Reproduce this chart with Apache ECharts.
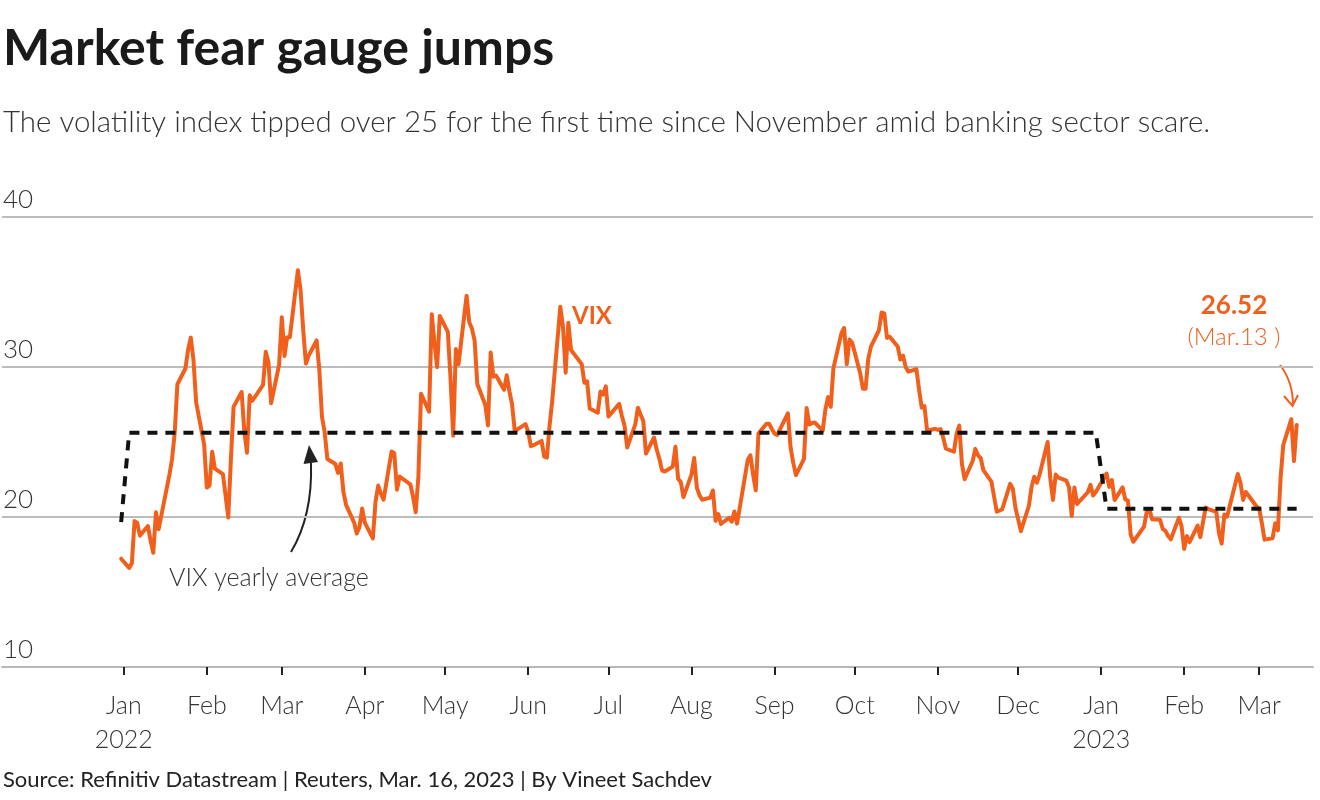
<!DOCTYPE html>
<html>
<head>
<meta charset="utf-8">
<script src="https://cdn.jsdelivr.net/npm/echarts@6.0.0/dist/echarts.min.js"></script>
<style>
html,body{margin:0;padding:0;background:#ffffff;}
#chart{width:1320px;height:800px;}
</style>
</head>
<body>
<div id="chart"></div>
<script>
// ---------------- DATA ----------------
const dates = [
'2021-12-31',
'2022-01-03','2022-01-04','2022-01-05','2022-01-06','2022-01-07','2022-01-10','2022-01-11','2022-01-12','2022-01-13','2022-01-14','2022-01-18','2022-01-19','2022-01-20','2022-01-21','2022-01-24','2022-01-25','2022-01-26','2022-01-27','2022-01-28','2022-01-31',
'2022-02-01','2022-02-02','2022-02-03','2022-02-04','2022-02-07','2022-02-08','2022-02-09','2022-02-10','2022-02-11','2022-02-14','2022-02-15','2022-02-16','2022-02-17','2022-02-18','2022-02-22','2022-02-23','2022-02-24','2022-02-25','2022-02-28',
'2022-03-01','2022-03-02','2022-03-03','2022-03-04','2022-03-07','2022-03-08','2022-03-09','2022-03-10','2022-03-11','2022-03-14','2022-03-15','2022-03-16','2022-03-17','2022-03-18','2022-03-21','2022-03-22','2022-03-23','2022-03-24','2022-03-25','2022-03-28','2022-03-29','2022-03-30','2022-03-31',
'2022-04-01','2022-04-04','2022-04-05','2022-04-06','2022-04-07','2022-04-08','2022-04-11','2022-04-12','2022-04-13','2022-04-14','2022-04-18','2022-04-19','2022-04-20','2022-04-21','2022-04-22','2022-04-25','2022-04-26','2022-04-27','2022-04-28','2022-04-29',
'2022-05-02','2022-05-03','2022-05-04','2022-05-05','2022-05-06','2022-05-09','2022-05-10','2022-05-11','2022-05-12','2022-05-13','2022-05-16','2022-05-17','2022-05-18','2022-05-19','2022-05-20','2022-05-23','2022-05-24','2022-05-25','2022-05-26','2022-05-27','2022-05-31',
'2022-06-01','2022-06-02','2022-06-03','2022-06-06','2022-06-07','2022-06-08','2022-06-09','2022-06-10','2022-06-13','2022-06-14','2022-06-15','2022-06-16','2022-06-17','2022-06-21','2022-06-22','2022-06-23','2022-06-24','2022-06-27','2022-06-28','2022-06-29','2022-06-30',
'2022-07-01','2022-07-05','2022-07-06','2022-07-07','2022-07-08','2022-07-11','2022-07-12','2022-07-13','2022-07-14','2022-07-15','2022-07-18','2022-07-19','2022-07-20','2022-07-21','2022-07-22','2022-07-25','2022-07-26','2022-07-27','2022-07-28','2022-07-29',
'2022-08-01','2022-08-02','2022-08-03','2022-08-04','2022-08-05','2022-08-08','2022-08-09','2022-08-10','2022-08-11','2022-08-12','2022-08-15','2022-08-16','2022-08-17','2022-08-18','2022-08-19','2022-08-22','2022-08-23','2022-08-24','2022-08-25','2022-08-26','2022-08-29','2022-08-30','2022-08-31',
'2022-09-01','2022-09-02','2022-09-06','2022-09-07','2022-09-08','2022-09-09','2022-09-12','2022-09-13','2022-09-14','2022-09-15','2022-09-16','2022-09-19','2022-09-20','2022-09-21','2022-09-22','2022-09-23','2022-09-26','2022-09-27','2022-09-28','2022-09-29','2022-09-30',
'2022-10-03','2022-10-04','2022-10-05','2022-10-06','2022-10-07','2022-10-10','2022-10-11','2022-10-12','2022-10-13','2022-10-14','2022-10-17','2022-10-18','2022-10-19','2022-10-20','2022-10-21','2022-10-24','2022-10-25','2022-10-26','2022-10-27','2022-10-28','2022-10-31',
'2022-11-01','2022-11-02','2022-11-03','2022-11-04','2022-11-07','2022-11-08','2022-11-09','2022-11-10','2022-11-11','2022-11-14','2022-11-15','2022-11-16','2022-11-17','2022-11-18','2022-11-21','2022-11-22','2022-11-23','2022-11-25','2022-11-28','2022-11-29','2022-11-30',
'2022-12-01','2022-12-02','2022-12-05','2022-12-06','2022-12-07','2022-12-08','2022-12-09','2022-12-12','2022-12-13','2022-12-14','2022-12-15','2022-12-16','2022-12-19','2022-12-20','2022-12-21','2022-12-22','2022-12-23','2022-12-27','2022-12-28','2022-12-29','2022-12-30',
'2023-01-03','2023-01-04','2023-01-05','2023-01-06','2023-01-09','2023-01-10','2023-01-11','2023-01-12','2023-01-13','2023-01-17','2023-01-18','2023-01-19','2023-01-20','2023-01-23','2023-01-24','2023-01-25','2023-01-26','2023-01-27','2023-01-30','2023-01-31',
'2023-02-01','2023-02-02','2023-02-03','2023-02-06','2023-02-07','2023-02-08','2023-02-09','2023-02-10','2023-02-13','2023-02-14','2023-02-15','2023-02-16','2023-02-17','2023-02-21','2023-02-22','2023-02-23','2023-02-24','2023-02-27','2023-02-28',
'2023-03-01','2023-03-02','2023-03-03','2023-03-06','2023-03-07','2023-03-08','2023-03-09','2023-03-10','2023-03-13','2023-03-14','2023-03-15'
];

const vix = [
17.22,
16.60,16.91,19.73,19.61,18.76,19.40,18.41,17.62,20.31,19.19,22.79,23.85,25.59,28.85,29.90,31.16,31.96,30.49,27.66,24.83,
21.96,22.09,24.35,23.22,22.86,21.44,19.96,23.91,27.36,28.33,25.70,24.29,28.11,27.75,28.81,31.02,30.32,27.59,30.15,
33.32,30.74,31.99,31.98,36.45,35.13,32.45,30.23,30.75,31.77,29.83,26.67,25.67,23.87,23.53,22.94,23.57,21.67,20.81,19.63,18.90,19.33,20.56,
19.63,18.57,21.03,22.10,21.55,21.16,24.37,24.26,21.82,22.70,22.17,21.37,20.32,22.68,28.21,27.02,33.52,31.60,29.99,33.40,
32.34,29.25,25.42,31.20,30.19,34.75,32.99,32.56,31.77,28.87,27.47,26.10,30.96,29.35,29.43,28.48,29.45,28.37,27.50,25.72,26.19,
25.69,24.72,24.79,25.07,24.02,23.96,26.09,27.75,34.02,32.69,29.62,32.95,31.13,30.19,28.95,29.05,27.23,26.95,28.36,28.16,28.71,
26.70,27.54,26.73,26.08,24.64,26.17,27.29,26.82,26.40,24.23,25.30,24.50,23.88,23.11,23.03,23.36,24.69,22.54,22.33,21.33,
22.84,23.93,21.95,21.44,21.15,21.29,21.77,19.74,20.20,19.53,19.95,19.69,20.37,19.56,20.60,23.80,24.11,22.82,21.78,25.56,26.21,26.21,25.87,
25.56,25.47,26.91,24.64,23.61,22.79,23.87,27.27,26.16,26.27,26.30,25.76,27.16,27.99,27.35,29.92,32.26,32.60,30.18,31.84,31.62,
29.59,28.55,28.55,30.52,31.36,32.45,33.63,33.57,31.94,32.02,31.37,30.50,30.76,29.98,29.69,29.85,28.46,27.28,27.39,25.75,25.88,
25.81,25.86,25.30,24.55,24.35,25.54,26.09,23.53,22.52,23.73,24.54,24.11,23.93,23.12,22.36,21.35,20.35,20.50,22.21,21.89,20.58,
19.84,19.06,20.75,22.01,22.68,22.29,22.83,25.00,22.55,21.14,22.83,22.62,22.42,21.97,20.07,21.97,20.87,21.65,22.14,21.44,21.67,
22.90,22.01,22.46,21.13,21.97,21.17,21.09,18.83,18.35,19.36,20.34,20.52,19.85,19.81,19.20,19.08,18.73,18.51,19.94,19.40,
17.87,18.73,18.33,19.43,18.66,19.63,20.63,20.53,20.34,18.91,18.23,20.17,20.02,22.87,22.29,21.14,21.67,20.95,20.70,
20.58,19.59,18.49,18.58,19.59,19.11,22.61,24.80,26.52,23.73,26.14
];

// VIX yearly average (2021, 2022, 2023 year-to-date)
const avgDates  = ['2021-12-31','2022-01-03','2022-12-30','2023-01-03','2023-03-15'];
const avgValues = [19.66, 25.62, 25.62, 20.55, 20.55];

// x-axis month ticks and labels
const monthTicks  = ['2022-01-01','2022-02-01','2022-03-01','2022-04-01','2022-05-01','2022-06-01','2022-07-01','2022-08-01','2022-09-01','2022-10-01','2022-11-01','2022-12-01','2023-01-01','2023-02-01','2023-03-01'];
const monthLabels = ['Jan\n2022','Feb','Mar','Apr','May','Jun','Jul','Aug','Sep','Oct','Nov','Dec','Jan\n2023','Feb','Mar'];

// y-axis ticks
const yMin = 10, yMax = 40, yStep = 10;

// text
const titleText    = 'Market fear gauge jumps';
const subtitleText = 'The volatility index tipped over 25 for the first time since November amid banking sector scare.';
const sourceText   = 'Source: Refinitiv Datastream | Reuters, Mar. 16, 2023 | By Vineet Sachdev';
const seriesLabel  = 'VIX';
const avgLabel     = 'VIX yearly average';
const lastValueLabel = '26.52';
const lastDateLabel  = '(Mar.13 )';

// ---------------- CHART ----------------
const DAY = 86400000;
function toTime(s){ const p = s.split('-').map(Number); return Date.UTC(p[0], p[1]-1, p[2]); }
const vixData = dates.map((d,i) => [toTime(d), vix[i]]);
const avgData = avgDates.map((d,i) => [toTime(d), avgValues[i]]);
const tickTimes = monthTicks.map(toTime);
const jan2022 = toTime('2022-01-01');

const ORANGE = '#f0601c';
const FONT = 'Lato, "Open Sans", "Noto Sans", sans-serif';

const chart = echarts.init(document.getElementById('chart'), null, {renderer:'canvas'});

const option = {
  animation: false,
  backgroundColor: '#ffffff',
  grid: {left: 0, right: 7, top: 217, bottom: 133, containLabel: false},
  xAxis: {
    type: 'value',
    min: jan2022 - 45.5 * DAY,
    max: jan2022 + 444.1 * DAY,
    axisLine: {show: true, lineStyle: {color: '#b8b8b8', width: 2}},
    axisTick: {show: true, customValues: tickTimes, length: 8, lineStyle: {color: '#222', width: 2}},
    axisLabel: {
      customValues: tickTimes,
      formatter: function (v) {
        for (let i = 0; i < tickTimes.length; i++) { if (Math.abs(tickTimes[i] - v) < DAY / 2) return monthLabels[i]; }
        return '';
      },
      margin: 22, fontSize: 25, fontFamily: FONT, fontWeight: 300, color: '#333', lineHeight: 34, align: 'center'
    },
    splitLine: {show: false}
  },
  yAxis: {
    type: 'value', min: yMin, max: yMax, interval: yStep,
    axisLine: {show: false}, axisTick: {show: false},
    splitLine: {show: true, lineStyle: {color: '#bcbcbc', width: 2}},
    axisLabel: {
      inside: true, margin: 1, verticalAlign: 'bottom', padding: [0, 0, 4, 0],
      fontSize: 26, fontFamily: FONT, fontWeight: 300, color: '#333'
    }
  },
  series: [
    {
      name: 'VIX', type: 'line', data: vixData, showSymbol: false, z: 3,
      lineStyle: {color: ORANGE, width: 4, join: 'round', cap: 'round'}
    },
    {
      name: 'VIX yearly average', type: 'line', data: avgData, showSymbol: false, z: 4,
      lineStyle: {color: '#111', width: 4, type: [10, 8]}
    }
  ],
  graphic: [
    {type: 'text', x: 3, y: 49, style: {text: titleText, fontSize: 50, fontWeight: 'bold', fontFamily: FONT, fill: '#1a1a1a', align: 'left', verticalAlign: 'middle'}},
    {type: 'text', x: 3, y: 122, style: {text: subtitleText, fontSize: 29.5, fontWeight: 300, fontFamily: FONT, fill: '#333', align: 'left', verticalAlign: 'middle'}},
    {type: 'text', x: 3, y: 780, style: {text: sourceText, fontSize: 22, fontWeight: 'normal', fontFamily: FONT, fill: '#222', align: 'left', verticalAlign: 'middle'}},
    {type: 'text', x: 572, y: 316, style: {text: seriesLabel, fontSize: 24, fontWeight: 'bold', fontFamily: FONT, fill: ORANGE, align: 'left', verticalAlign: 'middle'}},
    {type: 'text', x: 1234, y: 306, style: {text: lastValueLabel, fontSize: 26, fontWeight: 'bold', fontFamily: FONT, fill: ORANGE, align: 'center', verticalAlign: 'middle'}},
    {type: 'text', x: 1234, y: 337, style: {text: lastDateLabel, fontSize: 24, fontWeight: 300, fontFamily: FONT, fill: ORANGE, align: 'center', verticalAlign: 'middle'}},
    {type: 'text', x: 169, y: 578, style: {text: avgLabel, fontSize: 25, fontWeight: 300, fontFamily: FONT, fill: '#333', align: 'left', verticalAlign: 'middle'}},
    // black annotation arrow
    {type: 'bezierCurve', shape: {x1: 291, y1: 552, cpx1: 306, cpy1: 527, cpx2: 312, cpy2: 495, x2: 311, y2: 463}, style: {stroke: '#222', lineWidth: 2, fill: null}},
    {type: 'polygon', shape: {points: [[303.5, 464], [318, 462], [309, 445]]}, style: {fill: '#222'}},
    // orange annotation arrow
    {type: 'bezierCurve', shape: {x1: 1280, y1: 365, cpx1: 1290, cpy1: 378, cpx2: 1293, cpy2: 392, x2: 1293, y2: 405}, style: {stroke: ORANGE, lineWidth: 2, fill: null}},
    {type: 'polyline', shape: {points: [[1284, 396], [1292.5, 406], [1298, 395]]}, style: {stroke: ORANGE, lineWidth: 2, fill: null}}
  ]
};
chart.setOption(option);
</script>
</body>
</html>
